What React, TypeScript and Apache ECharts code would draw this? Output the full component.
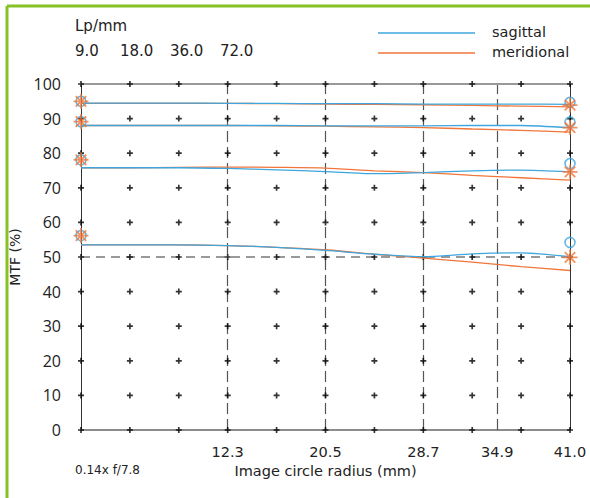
import React, { useEffect, useRef } from "react";
import * as echarts from "echarts";

// sample positions along the image circle radius (mm)
const radiusPoints = [0, 4.1, 8.2, 12.3, 16.4, 20.5, 24.6, 28.7, 32.8, 36.9, 41.0];
const mtfLevels = [0, 10, 20, 30, 40, 50, 60, 70, 80, 90, 100];
const xLabelValues = [12.3, 20.5, 28.7, 34.9, 41.0];
const freqLabels = ["9.0", "18.0", "36.0", "72.0"];

// MTF values (%) per frequency
const sagittal9 = [94.5, 94.5, 94.5, 94.4, 94.4, 94.3, 94.3, 94.2, 94.2, 94.2, 94.1];
const meridional9 = [94.4, 94.4, 94.4, 94.4, 94.3, 94.2, 94.1, 94.0, 93.8, 93.6, 93.4];
const sagittal18 = [88.0, 88.0, 88.0, 88.0, 88.0, 87.9, 87.9, 87.9, 88.0, 88.0, 87.3];
const meridional18 = [88.0, 88.0, 88.0, 88.0, 87.9, 87.8, 87.6, 87.4, 87.0, 86.6, 86.1];
const sagittal36 = [75.8, 75.8, 75.8, 75.6, 75.2, 74.7, 74.1, 74.4, 74.9, 75.1, 74.6];
const meridional36 = [75.8, 75.8, 75.9, 76.0, 75.9, 75.7, 74.9, 74.4, 73.6, 72.9, 72.2];
const sagittal72 = [53.5, 53.5, 53.5, 53.3, 52.8, 51.9, 50.8, 50.1, 50.9, 51.2, 50.1];
const meridional72 = [53.5, 53.5, 53.5, 53.3, 52.8, 52.1, 50.8, 49.7, 48.5, 47.2, 46.1];

// end markers
const centerMarks = [95.0, 89.1, 78.1, 56.2];
const sagittalEdgeMarks = [94.7, 89.0, 77.0, 54.2];
const meridionalEdgeMarks = [93.9, 87.4, 74.6, 49.9];

const BLUE = "#3ea6dd";
const ORANGE = "#f0763a";
const GREEN = "#84c225";
const FONT = "DejaVu Sans";

const pair = (vals: number[]) => radiusPoints.map((x, i) => [x, vals[i]]);

export default function App() {
  const ref = useRef<HTMLDivElement>(null);
  useEffect(() => {
    if (!ref.current) return;
    const chart = echarts.init(ref.current, null, { renderer: "svg" });

    const plusData: number[][] = [];
    radiusPoints.forEach((x) => mtfLevels.forEach((y) => plusData.push([x, y])));

    const lineSeries = (name: string, color: string, vals: number[]) => ({
      name,
      type: "line",
      data: pair(vals),
      showSymbol: false,
      smooth: 0.25,
      z: 4,
      lineStyle: { color, width: 1.3 },
      itemStyle: { color },
    });

    const starPath = "path://M0,-6L0,6M-6,0L6,0M-4.2,-4.2L4.2,4.2M-4.2,4.2L4.2,-4.2";

    const option: any = {
      animation: false,
      backgroundColor: "#ffffff",
      grid: { left: 77, top: 84, width: 493, height: 346, containLabel: false },
      xAxis: {
        type: "value",
        min: 0,
        max: 41,
        interval: 4.1,
        splitLine: { show: false },
        axisTick: { show: false },
        axisLine: { show: true, lineStyle: { color: "#666", width: 1.5 } },
        axisLabel: {
          customValues: xLabelValues,
          formatter: (v: number) => v.toFixed(1),
          color: "#222",
          fontSize: 14.5,
          fontFamily: FONT,
          margin: 14,
        },
        name: "Image circle radius (mm)",
        nameLocation: "middle",
        nameGap: 33,
        nameTextStyle: { color: "#222", fontSize: 14.5, fontFamily: FONT },
      },
      yAxis: {
        type: "value",
        min: 0,
        max: 100,
        interval: 10,
        splitLine: { show: false },
        axisTick: { show: false },
        axisLine: { show: true, lineStyle: { color: "#333", width: 1 } },
        axisLabel: { color: "#222", fontSize: 16, fontFamily: "Open Sans", margin: 20 },
        name: "MTF (%)",
        nameLocation: "middle",
        nameGap: 59,
        nameRotate: 90,
        nameTextStyle: { color: "#222", fontSize: 14, fontFamily: FONT },
      },
      series: [
        {
          type: "scatter",
          data: plusData,
          symbol: "path://M1.8,0H3.2V1.8H5V3.2H3.2V5H1.8V3.2H0V1.8H1.8Z",
          symbolSize: 6,
          itemStyle: { color: "#000" },
          z: 3,
          silent: true,
          markLine: {
            silent: true,
            symbol: ["none", "none"],
            label: { show: false },
            z: 1,
            data: [
              ...xLabelValues.slice(0, 4).map((v) => ({
                xAxis: v,
                lineStyle: { color: "#555", width: 1.2, type: [11, 5] },
              })),
              { xAxis: 41, lineStyle: { color: "#333", width: 1, type: "solid" } },
              { yAxis: 50, lineStyle: { color: "#999", width: 2, type: [9, 6] } },
              { yAxis: 100, lineStyle: { color: "#999", width: 2, type: "solid" } },
            ],
          },
        },
        lineSeries("meridional", ORANGE, meridional9),
        lineSeries("sagittal", BLUE, sagittal9),
        lineSeries("meridional", ORANGE, meridional18),
        lineSeries("sagittal", BLUE, sagittal18),
        lineSeries("meridional", ORANGE, meridional36),
        lineSeries("sagittal", BLUE, sagittal36),
        lineSeries("meridional", ORANGE, meridional72),
        lineSeries("sagittal", BLUE, sagittal72),
        {
          type: "scatter",
          data: [
            ...centerMarks.map((v) => [0, v]),
            ...sagittalEdgeMarks.map((v) => [41, v]),
          ],
          symbol: "circle",
          symbolSize: 10,
          itemStyle: { color: "rgba(0,0,0,0)", borderColor: BLUE, borderWidth: 1.6 },
          z: 5,
        },
        {
          type: "scatter",
          data: [
            ...centerMarks.map((v) => [0, v]),
            ...meridionalEdgeMarks.map((v) => [41, v]),
          ],
          symbol: starPath,
          symbolSize: 15,
          itemStyle: { color: "rgba(0,0,0,0)", borderColor: ORANGE, borderWidth: 1.8 },
          z: 6,
        },
      ],
      graphic: [
        { type: "line", shape: { x1: 7, y1: 6, x2: 590, y2: 6 }, style: { stroke: GREEN, lineWidth: 3 } },
        { type: "line", shape: { x1: 7, y1: 6, x2: 7, y2: 498 }, style: { stroke: GREEN, lineWidth: 3 } },
        {
          type: "text",
          left: 75,
          top: 18,
          style: { text: "Lp/mm", fill: "#222", fontSize: 15, fontFamily: FONT },
        },
        ...freqLabels.map((t, i) => ({
          type: "text",
          left: [75, 120, 170, 220][i],
          top: 43,
          style: { text: t, fill: "#222", fontSize: 15, fontFamily: FONT },
        })),
        { type: "line", shape: { x1: 378, y1: 33, x2: 475, y2: 33 }, style: { stroke: BLUE, lineWidth: 1.5 } },
        { type: "line", shape: { x1: 378, y1: 53, x2: 475, y2: 53 }, style: { stroke: ORANGE, lineWidth: 1.5 } },
        {
          type: "text",
          left: 492,
          top: 24,
          style: { text: "sagittal", fill: "#222", fontSize: 14.5, fontFamily: FONT },
        },
        {
          type: "text",
          left: 492,
          top: 44,
          style: { text: "meridional", fill: "#222", fontSize: 14.5, fontFamily: FONT },
        },
        {
          type: "text",
          left: 75,
          top: 464,
          style: { text: "0.14x f/7.8", fill: "#222", fontSize: 12, fontFamily: FONT },
        },
      ],
    };
    chart.setOption(option);
    return () => chart.dispose();
  }, []);
  return (
    <div
      ref={ref}
      style={{ position: "absolute", left: 0, top: 0, width: 590, height: 498, background: "#fff" }}
    />
  );
}
